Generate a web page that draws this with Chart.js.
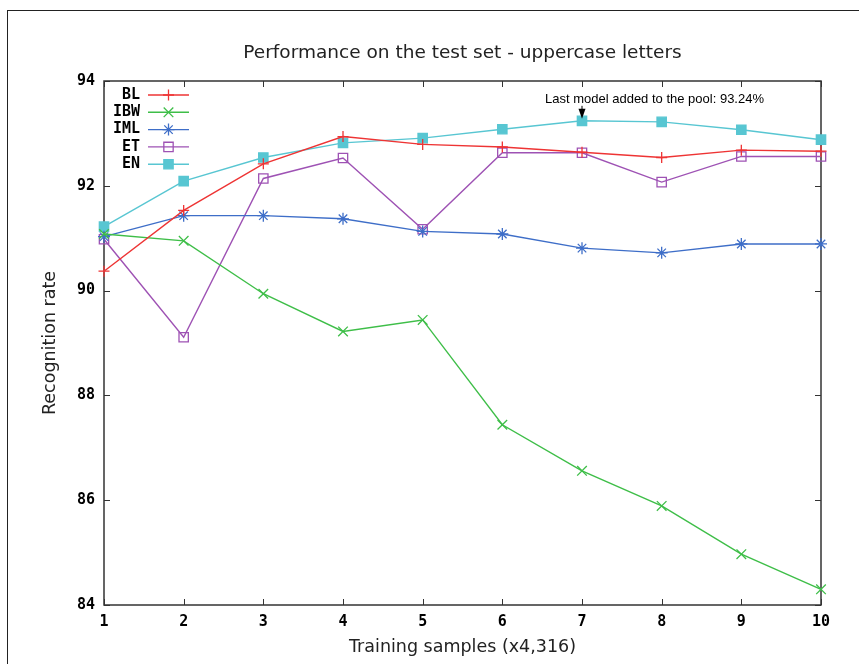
<!DOCTYPE html>
<html>
<head>
<meta charset="utf-8">
<script src="https://cdn.jsdelivr.net/npm/chart.js@4"></script>
<style>
  html, body { margin: 0; padding: 0; background: #fff; }
  #wrap { width: 859px; height: 664px; position: relative; }
</style>
</head>
<body>
<div id="wrap"><canvas id="myChart"></canvas></div>
<script>
// values
const samples = ['1', '2', '3', '4', '5', '6', '7', '8', '9', '10'];
const seriesNames = ['BL', 'IBW', 'IML', 'ET', 'EN'];
const bl  = [90.37, 91.53, 92.42, 92.94, 92.79, 92.74, 92.64, 92.54, 92.68, 92.66];
const ibw = [91.08, 90.95, 89.94, 89.22, 89.44, 87.44, 86.56, 85.89, 84.97, 84.30];
const iml = [91.03, 91.43, 91.43, 91.37, 91.13, 91.08, 90.81, 90.72, 90.89, 90.89];
const et  = [90.98, 89.11, 92.14, 92.53, 91.17, 92.63, 92.63, 92.07, 92.56, 92.56];
const en  = [91.22, 92.09, 92.54, 92.82, 92.91, 93.08, 93.24, 93.22, 93.07, 92.88];
const yTicks = [84, 86, 88, 90, 92, 94];
const lastModelIndex = 6;
const lastModelValue = 93.24;

const tickFont = { family: 'DejaVu Sans Mono', weight: 'bold', size: 15 };
const textFont = { family: 'DejaVu Sans', size: 17.5 };

function serie(label, data, color, style, radius, fill) {
  return {
    label: label,
    data: data,
    borderColor: color,
    backgroundColor: fill ? color : 'rgba(0,0,0,0)',
    borderWidth: 1.4,
    tension: 0,
    pointStyle: style,
    pointRadius: radius,
    pointBorderWidth: 1.3,
    pointBorderColor: color,
    pointBackgroundColor: fill ? color : 'rgba(0,0,0,0)',
    clip: false
  };
}

// fondo blanco + marco exterior + borde del grafico
const framePlugin = {
  id: 'frame',
  beforeDraw: (chart) => {
    const ctx = chart.ctx;
    ctx.save();
    ctx.fillStyle = '#fff';
    ctx.fillRect(0, 0, chart.width, chart.height);
    ctx.strokeStyle = '#222';
    ctx.lineWidth = 1;
    ctx.strokeRect(7.5, 10.5, chart.width + 20, chart.height + 20);
    ctx.restore();
  },
  beforeDatasetsDraw: (chart) => {
    const { ctx, chartArea: { left, top, right, bottom }, scales: { x, y } } = chart;
    ctx.save();
    ctx.strokeStyle = '#333';
    ctx.lineWidth = 1.5;
    ctx.strokeRect(left, top, right - left, bottom - top);
    ctx.lineWidth = 1;
    ctx.beginPath();
    samples.forEach((s, i) => {
      const px = Math.round(x.getPixelForValue(i)) + 0.5;
      ctx.moveTo(px, bottom); ctx.lineTo(px, bottom - 6);
      ctx.moveTo(px, top); ctx.lineTo(px, top + 6);
    });
    yTicks.forEach(v => {
      const py = Math.round(y.getPixelForValue(v)) + 0.5;
      ctx.moveTo(left, py); ctx.lineTo(left + 6, py);
      ctx.moveTo(right, py); ctx.lineTo(right - 6, py);
    });
    ctx.stroke();
    ctx.restore();
  }
};

// leyenda estilo gnuplot: texto a la izquierda, linea + marcador a la derecha
const legendPlugin = {
  id: 'gnuLegend',
  afterDatasetsDraw: (chart) => {
    const { ctx, chartArea: { left, top } } = chart;
    ctx.save();
    chart.data.datasets.forEach((ds, i) => {
      const yy = top + 14 + i * 17.3;
      ctx.font = 'bold 15px "DejaVu Sans Mono"';
      ctx.fillStyle = '#000';
      ctx.textAlign = 'right';
      ctx.textBaseline = 'middle';
      ctx.fillText(ds.label, left + 36, yy);
      ctx.strokeStyle = ds.borderColor;
      ctx.lineWidth = ds.borderWidth;
      ctx.beginPath();
      ctx.moveTo(left + 44, yy);
      ctx.lineTo(left + 85, yy);
      ctx.stroke();
      ctx.fillStyle = ds.pointBackgroundColor;
      ctx.lineWidth = ds.pointBorderWidth;
      Chart.helpers.drawPoint(ctx, {
        pointStyle: ds.pointStyle, radius: ds.pointRadius, rotation: 0, borderWidth: ds.pointBorderWidth
      }, left + 64.5, yy);
    });
    ctx.restore();
  }
};

// nota con flecha sobre el ultimo modelo
const notePlugin = {
  id: 'note',
  afterDatasetsDraw: (chart) => {
    const { ctx, scales: { x, y } } = chart;
    const px = x.getPixelForValue(lastModelIndex);
    const tip = y.getPixelForValue(lastModelValue) - 2;
    ctx.save();
    ctx.fillStyle = '#000';
    ctx.strokeStyle = '#000';
    ctx.font = '13px "Liberation Sans", Arial, sans-serif';
    ctx.textAlign = 'left';
    ctx.textBaseline = 'alphabetic';
    ctx.fillText('Last model added to the pool: ' + lastModelValue.toFixed(2) + '%', px - 37, tip - 16);
    ctx.lineWidth = 1;
    ctx.beginPath();
    ctx.moveTo(px, tip - 13);
    ctx.lineTo(px, tip - 6);
    ctx.stroke();
    ctx.beginPath();
    ctx.moveTo(px - 3.5, tip - 10);
    ctx.lineTo(px + 3.5, tip - 10);
    ctx.lineTo(px, tip);
    ctx.closePath();
    ctx.fill();
    ctx.restore();
  }
};

const ctx = document.getElementById('myChart');
new Chart(ctx, {
  type: 'line',
  data: {
    labels: samples,
    datasets: [
      serie(seriesNames[0], bl,  'rgb(238,52,52)',  'cross',    5.5, false),
      serie(seriesNames[1], ibw, 'rgb(62,190,72)',  'crossRot', 6.8, false),
      serie(seriesNames[2], iml, 'rgb(62,110,200)', 'star',     6,   false),
      serie(seriesNames[3], et,  'rgb(158,82,180)', 'rect',     6.6, false),
      serie(seriesNames[4], en,  'rgb(88,198,210)', 'rect',     6.6, true)
    ]
  },
  options: {
    responsive: true,
    maintainAspectRatio: false,
    animation: false,
    layout: { padding: { left: 0, right: 38, top: 0, bottom: 0 } },
    plugins: {
      legend: { display: false },
      tooltip: { enabled: false },
      title: {
        display: true,
        fullSize: false,
        text: 'Performance on the test set - uppercase letters',
        color: '#222',
        font: { family: 'DejaVu Sans', size: 18.5, weight: 'normal', lineHeight: 1.2 },
        padding: { top: 42, bottom: 16.8 }
      }
    },
    scales: {
      x: {
        type: 'category',
        offset: false,
        grid: { display: false, drawTicks: false },
        border: { display: false },
        ticks: { color: '#000', font: tickFont, padding: 8, maxRotation: 0, autoSkip: false },
        title: { display: true, text: 'Training samples (x4,316)', color: '#222', font: textFont, padding: { top: 0, bottom: 6 } },
        afterFit: (scale) => { scale.height = 59; }
      },
      y: {
        min: 84,
        max: 94,
        grid: { display: false, drawTicks: false },
        border: { display: false },
        ticks: { stepSize: 2, color: '#000', font: tickFont, padding: 9 },
        title: { display: true, text: 'Recognition rate', color: '#222', font: textFont, padding: { top: 40, bottom: 0 } },
        afterFit: (scale) => { scale.width = 104; }
      }
    }
  },
  plugins: [framePlugin, legendPlugin, notePlugin]
});
</script>
</body>
</html>
